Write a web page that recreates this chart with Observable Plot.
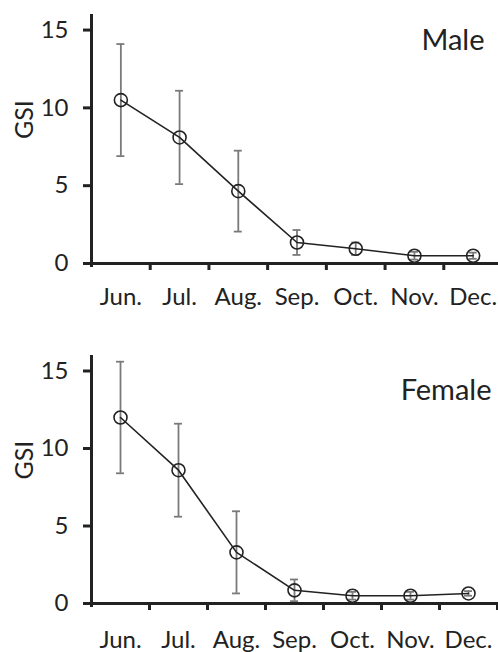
<!DOCTYPE html>
<html><head><meta charset="utf-8">
<script src="https://cdn.jsdelivr.net/npm/d3@7"></script>
<script src="https://cdn.jsdelivr.net/npm/@observablehq/plot@0.6"></script>
<style>body{margin:0;background:#fff;} svg{display:block;}</style>
</head><body><div id="c"></div>
<script>
const months = ["Jun.", "Jul.", "Aug.", "Sep.", "Oct.", "Nov.", "Dec."];
const maleMean = [10.5, 8.1, 4.65, 1.35, 0.95, 0.5, 0.5];
const maleErr = [3.6, 3.0, 2.6, 0.8, 0.4, 0.25, 0.2];
const femaleMean = [12.0, 8.6, 3.3, 0.85, 0.5, 0.5, 0.65];
const femaleErr = [3.6, 3.0, 2.65, 0.7, 0.25, 0.25, 0.15];
const yTicks = [0, 5, 10, 15];
const panelLabels = ["Male", "Female"];

function panel(label, mean, err, g) {
  const data = months.map((m, i) => ({m, i, mean: mean[i], lo: mean[i] - err[i], hi: mean[i] + err[i]}));
  const X = d => d.i + 0.5;
  const ink = "#222";
  return Plot.plot({
    width: 498, height: g.height,
    marginLeft: 91, marginRight: 0, marginTop: g.mt, marginBottom: g.mb,
    style: {fontFamily: "Lato, sans-serif", fontSize: "24px", color: ink, background: "#fff"},
    x: {domain: [0, months.length], range: [91, g.xEnd], axis: null},
    y: {domain: [0, 16], axis: null},
    marks: [
      Plot.ruleX(data, {x: X, y1: "lo", y2: "hi", stroke: "#7a7a7a", strokeWidth: 1.8}),
      Plot.ruleY(data, {x1: X, x2: X, y: "hi", stroke: "#7a7a7a", strokeWidth: 1.8, insetLeft: -4, insetRight: -4}),
      Plot.ruleY(data, {x1: X, x2: X, y: "lo", stroke: "#7a7a7a", strokeWidth: 1.8, insetLeft: -4, insetRight: -4}),
      Plot.line(data, {x: X, y: "mean", stroke: ink, strokeWidth: 1.6}),
      Plot.dot(data, {x: X, y: "mean", r: 6.5, stroke: ink, strokeWidth: 1.6, fill: "none"}),
      Plot.ruleX([0], {stroke: ink, strokeWidth: 3, insetBottom: -4}),
      Plot.ruleY([0], {stroke: ink, strokeWidth: 3, insetLeft: -8}),
      Plot.axisY({ticks: yTicks, tickSize: 8, strokeWidth: 3, stroke: ink, tickPadding: 15, fontSize: 24, label: null}),
      Plot.axisX({ticks: d3.range(1, months.length + 1), tickSize: 7, strokeWidth: 3, stroke: ink, tickFormat: () => "", label: null}),
      Plot.text(data, {x: X, y: () => 0, text: "m", dy: g.monthDy, lineAnchor: "top", fontSize: 24, fill: ink}),
      Plot.text([label], {frameAnchor: "top-right", textAnchor: "end", lineAnchor: "top", dx: g.labelDx, dy: g.labelDy, fontSize: 29, fill: ink}),
      Plot.text(["GSI"], {frameAnchor: "left", rotate: -90, dx: -67, fontSize: 25, fill: ink})
    ]
  });
}

const c = document.getElementById("c");
c.append(panel(panelLabels[0], maleMean, maleErr, {height: 320, mt: 14, mb: 57, xEnd: 502, monthDy: 24, labelDx: -14, labelDy: 15}));
c.append(panel(panelLabels[1], femaleMean, femaleErr, {height: 332, mt: 35, mb: 49, xEnd: 497, monthDy: 27, labelDx: -7, labelDy: 24}));
</script>
</body></html>
